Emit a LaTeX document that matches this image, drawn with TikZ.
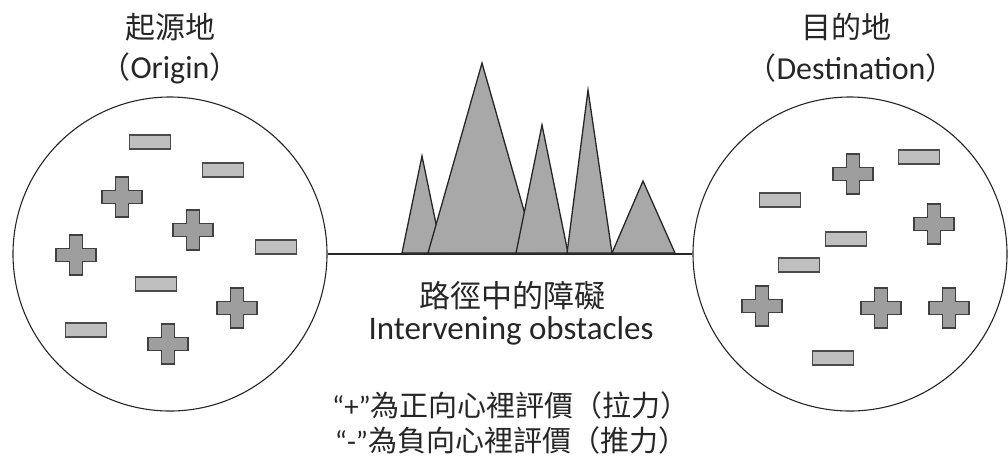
\documentclass[tikz,border=0pt]{standalone}
\usepackage{fontspec}
\setmainfont{Carlito}
\newfontfamily\cjk{Noto Sans CJK TC}
\begin{document}
\begin{tikzpicture}[x=1pt,y=-1pt,
  ring/.style={draw=black!85,line width=1.1pt,circle,minimum size=314pt,inner sep=0pt},
  tri/.style={fill=black!34,draw=black!85,line width=1.3pt,line join=miter},
  minusst/.style={fill=black!25,draw=black!70,line width=1.2pt},
  plusst/.style={fill=black!38,draw=black!75,line width=1.2pt},
  lbl/.style={text=black!85,inner sep=0pt,align=center},
  pluspic/.pic={\draw[plusst] (-6.5,-20) -- (6.5,-20) -- (6.5,-6.5) -- (20,-6.5) -- (20,6.5) -- (6.5,6.5) -- (6.5,20) -- (-6.5,20) -- (-6.5,6.5) -- (-20,6.5) -- (-20,-6.5) -- (-6.5,-6.5) -- cycle;},
  minuspic/.pic={\draw[minusst] (-20.5,-7) rectangle (20.5,7);}
]
\useasboundingbox (0,0) rectangle (1008,459);
% circles
\node[ring] (L) at (170,254) {};
\node[ring] (R) at (850,254) {};
\draw[black!85,line width=1.3pt] (L.east) -- (R.west);
% obstacles
\filldraw[tri] (402,253) -- (422,156) -- (442,253) -- cycle;
\filldraw[tri] (428,253) -- (482,63) -- (536,253) -- cycle;
\filldraw[tri] (516,253) -- (542,125) -- (568,253) -- cycle;
\filldraw[tri] (567,253) -- (588,90) -- (612,253) -- cycle;
\filldraw[tri] (612,253) -- (643,181) -- (675,253) -- cycle;
% left items
\pic at (150,142) {minuspic};
\pic at (223,170) {minuspic};
\pic at (122,197) {pluspic};
\pic at (193,230) {pluspic};
\pic at (76,255) {pluspic};
\pic at (276,247) {minuspic};
\pic at (156,284) {minuspic};
\pic at (237,308) {pluspic};
\pic at (86,330) {minuspic};
\pic at (168,344) {pluspic};
% right items
\pic at (853,174) {pluspic};
\pic at (919,157) {minuspic};
\pic at (780,200) {minuspic};
\pic at (934,224) {pluspic};
\pic at (846,239) {minuspic};
\pic at (799,265) {minuspic};
\pic at (762,306) {pluspic};
\pic at (881,308) {pluspic};
\pic at (949,308) {pluspic};
\pic at (833,358) {minuspic};
% labels
\node[lbl,font=\cjk\fontsize{30}{36}\selectfont] (t1) at (170,27) {起源地};
\node[lbl,font=\fontsize{32}{36}\selectfont] (t1b) at (170,68) {{\cjk\fontsize{30}{36}\selectfont （}Origin{\cjk\fontsize{30}{36}\selectfont ）}};
\node[lbl,font=\cjk\fontsize{30}{36}\selectfont] (t2) at (846,27) {目的地};
\node[lbl,font=\fontsize{32}{36}\selectfont] (t2b) at (851,68) {{\cjk\fontsize{30}{36}\selectfont （}Destination{\cjk\fontsize{30}{36}\selectfont ）}};
\node[lbl,font=\cjk\fontsize{31}{36}\selectfont] (m1) at (512,296) {路徑中的障礙};
\node[lbl,font=\fontsize{33}{36}\selectfont] (m2) at (511,331) {Intervening obstacles};
\node[lbl,font=\fontsize{29}{33}\selectfont] (n1) at (511,405) {“+”{\cjk 為正向心裡評價（拉力）}};
\node[lbl,font=\fontsize{29}{33}\selectfont] (n2) at (511,440) {“-”{\cjk 為負向心裡評價（推力）}};
\end{tikzpicture}
\end{document}
